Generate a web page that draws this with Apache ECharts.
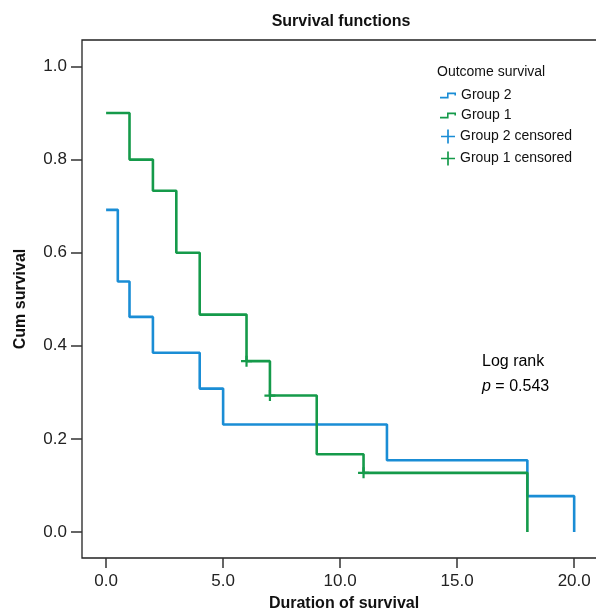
<!DOCTYPE html>
<html lang="en">
<head>
    <meta charset="UTF-8">
    <title>Survival functions</title>
    <script src="https://cdn.jsdelivr.net/npm/echarts@6/dist/echarts.min.js"></script>
</head>
<style>
    body { margin: 0; background: #fff; }
</style>
<body>
    <div id="box" style="width:596px;height:614px"></div>
</body>
<script>
    // 生存曲线数据 (time, cum survival)
    const group2 = [[0, 0.692], [0.5, 0.538], [1, 0.462], [2, 0.385], [4, 0.308], [5, 0.231], [12, 0.154], [18, 0.077], [20, 0]];
    const group1 = [[0, 0.9], [1, 0.8], [2, 0.733], [3, 0.6], [4, 0.467], [6, 0.367], [7, 0.293], [9, 0.167], [11, 0.127], [18, 0]];
    const group2Censored = [];
    const group1Censored = [[6, 0.367], [7, 0.293], [11, 0.127]];
    const xTicks = [0, 5, 10, 15, 20];
    const yTicks = [0, 0.2, 0.4, 0.6, 0.8, 1.0];

    const blue = '#1a8dd5';
    const green = '#159a4a';
    const font = '"Liberation Sans", sans-serif';
    const plus = 'path://M0,4 L10,4 L10,6 L0,6 Z M4,0 L6,0 L6,10 L4,10 Z';
    const plusThin = 'path://M0,4.4 L10,4.4 L10,5.6 L0,5.6 Z M4.4,0 L5.6,0 L5.6,10 L4.4,10 Z';
    const step = 'path://M0,4.2 L7,4.2 L7,0 L16,0 L16,3 L14.4,3 L14.4,1.6 L8.6,1.6 L8.6,5.8 L0,5.8 Z';

    var myChart = echarts.init(document.getElementById('box'));
    var option = {
        animation: false,
        title: [{
            text: 'Survival functions',
            left: 336, top: 9, textAlign: 'center',
            textStyle: { fontFamily: font, fontSize: 16, fontWeight: 'bold', color: '#111' }
        }, {
            text: 'Outcome survival',
            left: 432, top: 60,
            textStyle: { fontFamily: font, fontSize: 14, fontWeight: 'normal', color: '#111' }
        }],
        legend: [{
            orient: 'vertical', left: 435, top: 83,
            itemWidth: 16, itemHeight: 6, itemGap: 5,
            textStyle: { fontFamily: font, fontSize: 14, color: '#111', lineHeight: 15 },
            data: [
                { name: 'Group 2', icon: step, itemStyle: { color: blue, borderWidth: 0 } },
                { name: 'Group 1', icon: step, itemStyle: { color: green, borderWidth: 0 } }
            ]
        }, {
            orient: 'vertical', left: 436, top: 124,
            itemWidth: 14, itemHeight: 14, itemGap: 7,
            textStyle: { fontFamily: font, fontSize: 14, color: '#111', lineHeight: 15 },
            data: [
                { name: 'Group 2 censored', icon: plusThin, itemStyle: { color: blue, borderWidth: 0 } },
                { name: 'Group 1 censored', icon: plusThin, itemStyle: { color: green, borderWidth: 0 } }
            ]
        }],
        graphic: [{
            type: 'text', left: 482, top: 354,
            style: {
                text: '{n|Log rank}\n{i|p}{n| = 0.543}',
                align: 'center',
                rich: {
                    n: { fontFamily: font, fontSize: 16, color: '#111', lineHeight: 25 },
                    i: { fontFamily: font, fontSize: 16, color: '#111', fontStyle: 'italic', lineHeight: 25 }
                }
            }
        }],
        grid: {
            left: 82, right: -10, top: 40, bottom: 56,
            outerBoundsMode: 'none',
            show: true, borderColor: '#222', borderWidth: 1.3
        },
        xAxis: {
            type: 'value', min: -1.03, max: 21.36,
            name: 'Duration of survival', nameLocation: 'middle', nameGap: 38,
            nameTextStyle: { fontFamily: font, fontSize: 16, fontWeight: 'bold', color: '#111' },
            axisLine: { show: false, onZero: false },
            splitLine: { show: false },
            axisTick: { show: true, customValues: xTicks, length: 10, lineStyle: { color: '#333', width: 1.5 } },
            axisLabel: {
                customValues: xTicks, margin: 15,
                fontFamily: font, fontSize: 17, color: '#222',
                formatter: v => v.toFixed(1)
            }
        },
        yAxis: {
            type: 'value', min: -0.056, max: 1.057,
            name: 'Cum survival', nameLocation: 'middle', nameGap: 53,
            nameTextStyle: { fontFamily: font, fontSize: 16, fontWeight: 'bold', color: '#111' },
            axisLine: { show: false, onZero: false },
            splitLine: { show: false },
            axisTick: { show: true, customValues: yTicks, length: 11, lineStyle: { color: '#333', width: 1.5 } },
            axisLabel: {
                customValues: yTicks, margin: 15,
                fontFamily: font, fontSize: 17, color: '#222',
                formatter: v => v.toFixed(1)
            }
        },
        series: [{
            name: 'Group 2', type: 'line', step: 'end', data: group2,
            showSymbol: false, color: blue, lineStyle: { width: 2.6, color: blue }
        }, {
            name: 'Group 1', type: 'line', step: 'end', data: group1,
            showSymbol: false, color: green, lineStyle: { width: 2.6, color: green }
        }, {
            name: 'Group 2 censored', type: 'scatter', data: group2Censored,
            symbol: plus, symbolSize: 11, color: blue, itemStyle: { opacity: 1 }
        }, {
            name: 'Group 1 censored', type: 'scatter', data: group1Censored,
            symbol: plus, symbolSize: 11, color: green, itemStyle: { opacity: 1 }
        }]
    };
    myChart.setOption(option);
</script>
</html>
